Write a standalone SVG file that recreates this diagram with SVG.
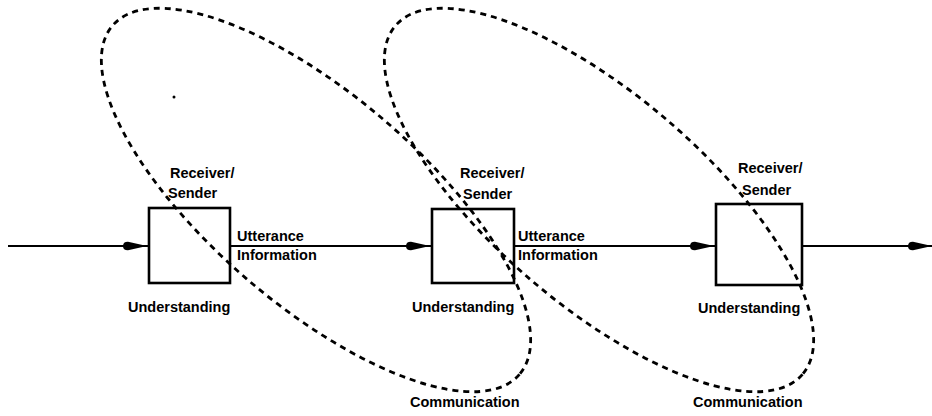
<svg xmlns="http://www.w3.org/2000/svg" width="932" height="416" viewBox="0 0 932 416">
<defs>
<style>
.box{fill:none;stroke:#000;stroke-width:2.6}
.flow{fill:none;stroke:#000;stroke-width:2.2}
.loop{fill:none;stroke:#000;stroke-width:2.8;stroke-dasharray:6 5}
.lbl{font-family:"Liberation Sans",Arial,sans-serif;font-weight:bold;font-size:14.5px;fill:#000}
</style>
<marker id="arr" markerUnits="userSpaceOnUse" markerWidth="30" markerHeight="12" refX="27" refY="6" orient="auto">
<path d="M1,6 Q1,1.6 6,1.7 L25,6 L6,10.3 Q1,10.4 1,6 Z" fill="#000"/>
</marker>
</defs>
<rect width="932" height="416" fill="#fff"/>
<g id="connectors">
<line class="flow" x1="8" y1="246" x2="149" y2="246" marker-end="url(#arr)"/>
<line class="flow" x1="230" y1="246" x2="432" y2="246" marker-end="url(#arr)"/>
<line class="flow" x1="514" y1="246" x2="716" y2="246" marker-end="url(#arr)"/>
<line class="flow" x1="802" y1="246" x2="934" y2="246" marker-end="url(#arr)"/>
</g>
<g id="node1">
<rect class="box" x="149" y="208" width="81" height="75"/>
<text class="lbl" x="170" y="178">Receiver/</text>
<text class="lbl" x="168" y="198">Sender</text>
<text class="lbl" x="237" y="241">Utterance</text>
<text class="lbl" x="237" y="260">Information</text>
<text class="lbl" x="128" y="312">Understanding</text>
</g>
<g id="node2">
<rect class="box" x="432" y="209" width="82" height="74"/>
<text class="lbl" x="460" y="178">Receiver/</text>
<text class="lbl" x="463" y="199">Sender</text>
<text class="lbl" x="518" y="241">Utterance</text>
<text class="lbl" x="518" y="260">Information</text>
<text class="lbl" x="412" y="312">Understanding</text>
</g>
<g id="node3">
<rect class="box" x="716" y="204" width="86" height="81"/>
<text class="lbl" x="738" y="173">Receiver/</text>
<text class="lbl" x="742" y="195">Sender</text>
<text class="lbl" x="698" y="313">Understanding</text>
</g>
<g id="communication1">
<ellipse class="loop" cx="316" cy="200" rx="268" ry="105" transform="rotate(40.6 316 200)"/>
<text class="lbl" x="410" y="407">Communication</text>
</g>
<g id="communication2">
<ellipse class="loop" cx="599" cy="200" rx="268" ry="105" transform="rotate(40.6 599 200)"/>
<text class="lbl" x="693" y="407">Communication</text>
</g>
<circle cx="174" cy="97" r="1.5" fill="#000"/>
</svg>
